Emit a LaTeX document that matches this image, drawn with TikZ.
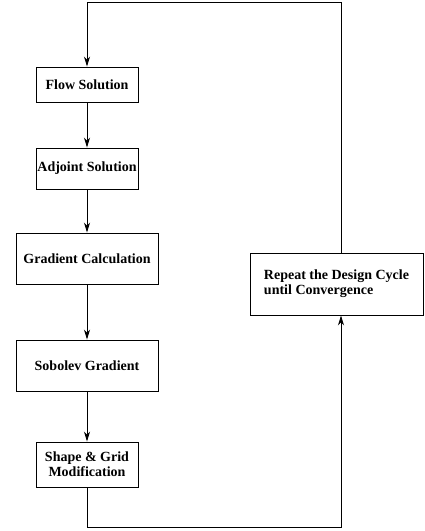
\documentclass[tikz,border=0pt]{standalone}
\usepackage{fontspec}
\setmainfont{Liberation Serif}
\usetikzlibrary{arrows.meta}
\begin{document}
\begin{tikzpicture}[x=1pt,y=-1pt,
  box/.style={draw,line width=0.9pt,inner sep=0pt,align=center,
    font=\fontsize{14}{15}\selectfont\bfseries},
  arr/.style={line width=0.9pt,-{Stealth[length=10pt,width=6pt,inset=3pt]}}]
\useasboundingbox (0,0) rectangle (424,531);
\node[box,minimum width=102pt,minimum height=35pt] (flow) at (87,84.5) {Flow Solution};
\node[box,minimum width=102pt,minimum height=41pt] (adj) at (87,168.5) {Adjoint Solution};
\node[box,minimum width=142pt,minimum height=51pt] (grad) at (87,258.5) {Gradient Calculation};
\node[box,minimum width=142pt,minimum height=51pt] (sob) at (87,365.5) {Sobolev Gradient};
\node[box,minimum width=102pt,minimum height=45pt] (shape) at (87,464.5) {Shape \& Grid\\Modification};
\node[box,align=left,minimum width=173pt,minimum height=62pt] (rep) at (336.5,284) {Repeat the Design Cycle\\until Convergence};
\coordinate (bl) at (87,527);
\coordinate (br) at (341,527);
\coordinate (tr) at (341,2);
\coordinate (tl) at (87,2);
\draw[arr] (flow) -- (adj);
\draw[arr] (adj) -- (grad);
\draw[arr] (grad) -- (sob);
\draw[arr] (sob) -- (shape);
\draw[arr] (shape) -- (bl) -- (br) -- (br |- rep.south);
\draw[arr] (tr |- rep.north) -- (tr) -- (tl) -- (flow);
\end{tikzpicture}
\end{document}
